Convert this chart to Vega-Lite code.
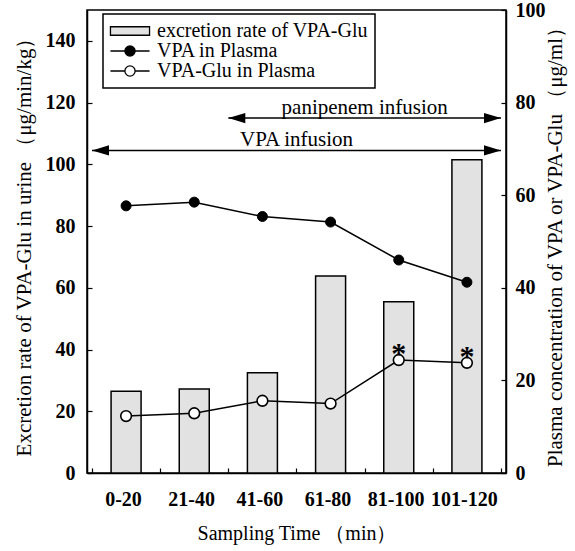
{
  "$schema": "https://vega.github.io/schema/vega-lite/v6.json",
  "width": 419,
  "height": 463,
  "autosize": {"type": "none"},
  "padding": {"left": 87, "top": 10, "right": 68, "bottom": 78},
  "background": "white",
  "config": {
    "font": "Liberation Serif",
    "view": {"stroke": "black", "strokeWidth": 1.5},
    "axis": {
      "grid": false,
      "domainColor": "black",
      "domainWidth": 1.5,
      "tickColor": "black",
      "tickWidth": 1.2,
      "labelColor": "black",
      "titleColor": "black",
      "labelFont": "Liberation Serif",
      "titleFont": "Liberation Serif",
      "labelFontSize": 20,
      "labelFontWeight": "bold",
      "titleFontSize": 20,
      "titleFontWeight": "normal"
    }
  },
  "datasets": {
    "main": [
      {"period": "0-20", "mid": 10, "rate": 26.5, "vpa": 57.7, "glu": 12.3},
      {"period": "21-40", "mid": 30, "rate": 27.2, "vpa": 58.5, "glu": 12.9},
      {"period": "41-60", "mid": 50, "rate": 32.5, "vpa": 55.4, "glu": 15.6},
      {"period": "61-80", "mid": 70, "rate": 63.8, "vpa": 54.2, "glu": 15.0},
      {"period": "81-100", "mid": 90, "rate": 55.5, "vpa": 46.0, "glu": 24.4},
      {"period": "101-120", "mid": 110, "rate": 101.5, "vpa": 41.2, "glu": 23.8}
    ],
    "stars": [
      {"mid": 90, "level": 27.2},
      {"mid": 110, "level": 26.6}
    ],
    "arrows": [
      {"label": "panipenem infusion", "start": 40, "end": 120, "level": 115},
      {"label": "VPA infusion", "start": 0, "end": 120, "level": 104.5}
    ]
  },
  "layer": [
    {
      "data": {"name": "main"},
      "mark": {"type": "bar", "size": 30, "stroke": "black", "strokeWidth": 1.5},
      "encoding": {
        "x": {
          "field": "mid",
          "type": "quantitative",
          "scale": {"domain": [0, 120], "nice": false, "zero": false},
          "axis": {
            "values": [0, 20, 40, 60, 80, 100, 120],
            "labelExpr": "datum.value == 0 ? '0-20' : datum.value == 20 ? '21-40' : datum.value == 40 ? '41-60' : datum.value == 60 ? '61-80' : datum.value == 80 ? '81-100' : datum.value == 100 ? '101-120' : ''",
            "labelOffset": 31,
            "labelOverlap": false,
            "labelFlush": false,
            "labelBound": false,
            "tickSize": -5,
            "labelPadding": 21,
            "title": "Sampling Time （min）",
            "titlePadding": 14
          }
        },
        "y": {
          "field": "rate",
          "type": "quantitative",
          "scale": {"domain": [0, 150], "nice": false},
          "axis": {
            "values": [0, 20, 40, 60, 80, 100, 120, 140],
            "tickSize": -5,
            "labelPadding": 17,
            "title": "Excretion rate of VPA-Glu in urine （μg/min/kg）",
            "titleFontSize": 21,
            "titlePadding": 11
          }
        },
        "fill": {
          "datum": "excretion rate of VPA-Glu",
          "type": "nominal",
          "scale": {
            "domain": ["excretion rate of VPA-Glu", "VPA in Plasma", "VPA-Glu in Plasma"],
            "range": ["#e2e2e2", "black", "white"]
          },
          "legend": {
            "title": null,
            "orient": "none",
            "legendX": 16,
            "legendY": 4,
            "strokeColor": "black",
            "padding": 7,
            "labelFont": "Liberation Serif",
            "labelFontSize": 20,
            "labelColor": "black",
            "labelLimit": 400,
            "symbolSize": 289,
            "symbolStrokeColor": "black",
            "symbolStrokeWidth": 1.3,
            "symbolOffset": 10,
            "labelOffset": 17,
            "rowPadding": 0,
            "encode": {
              "legend": {
                "update": {"strokeWidth": {"value": 1.5}}
              },
              "symbols": {
                "update": {
                  "shape": {"signal": "datum.value === 'excretion rate of VPA-Glu' ? 'M-2.3,-0.5H2.3V0.5H-2.3Z' : 'M-2.3,0H-0.6M0.6,0H2.3M0.6,0A0.6,0.6 0 1,1 -0.6,0A0.6,0.6 0 1,1 0.6,0Z'"},
                  "stroke": {"value": "black"},
                  "opacity": {"value": 1}
                }
              }
            }
          }
        }
      }
    },
    {
      "data": {"name": "main"},
      "mark": {"type": "line", "color": "black", "strokeWidth": 1.5},
      "encoding": {
        "x": {"field": "mid", "type": "quantitative"},
        "y": {
          "field": "vpa",
          "type": "quantitative",
          "scale": {"domain": [0, 100], "nice": false},
          "axis": {
            "orient": "right",
            "values": [0, 20, 40, 60, 80, 100],
            "tickSize": -5,
            "labelPadding": 14,
            "title": "Plasma concentration of VPA or VPA-Glu （μg/ml）",
            "titleFontSize": 21,
            "titleAngle": 270,
            "titlePadding": 20
          }
        }
      }
    },
    {
      "data": {"name": "main"},
      "mark": {"type": "line", "color": "black", "strokeWidth": 1.5},
      "encoding": {
        "x": {"field": "mid", "type": "quantitative"},
        "y": {"field": "glu", "type": "quantitative", "scale": {"domain": [0, 100], "nice": false}, "axis": null}
      }
    },
    {
      "data": {"name": "main"},
      "mark": {"type": "point", "shape": "circle", "filled": true, "opacity": 1, "stroke": "black", "strokeWidth": 1, "size": 100},
      "encoding": {
        "x": {"field": "mid", "type": "quantitative"},
        "y": {"field": "vpa", "type": "quantitative", "scale": {"domain": [0, 100], "nice": false}, "axis": null},
        "fill": {"datum": "VPA in Plasma", "type": "nominal"}
      }
    },
    {
      "data": {"name": "main"},
      "mark": {"type": "point", "shape": "circle", "filled": true, "opacity": 1, "stroke": "black", "strokeWidth": 1.6, "size": 115},
      "encoding": {
        "x": {"field": "mid", "type": "quantitative"},
        "y": {"field": "glu", "type": "quantitative", "scale": {"domain": [0, 100], "nice": false}, "axis": null},
        "fill": {"datum": "VPA-Glu in Plasma", "type": "nominal"}
      }
    },
    {
      "data": {"name": "stars"},
      "mark": {"type": "text", "text": "*", "font": "Liberation Serif", "fontSize": 30, "fontWeight": "bold", "baseline": "middle", "dy": 7, "color": "black"},
      "encoding": {
        "x": {"field": "mid", "type": "quantitative"},
        "y": {"field": "level", "type": "quantitative", "scale": {"domain": [0, 100], "nice": false}, "axis": null}
      }
    },
    {
      "data": {"name": "arrows"},
      "mark": {"type": "rule", "color": "black", "strokeWidth": 1.5},
      "encoding": {
        "x": {"field": "start", "type": "quantitative"},
        "x2": {"field": "end"},
        "y": {"field": "level", "type": "quantitative", "scale": {"domain": [0, 150], "nice": false}, "axis": null}
      }
    },
    {
      "data": {"name": "arrows"},
      "mark": {"type": "point", "shape": "M0,0L2,-0.6L2,0.6Z", "filled": true, "color": "black", "opacity": 1, "size": 289},
      "encoding": {
        "x": {"field": "start", "type": "quantitative"},
        "y": {"field": "level", "type": "quantitative", "scale": {"domain": [0, 150], "nice": false}, "axis": null}
      }
    },
    {
      "data": {"name": "arrows"},
      "mark": {"type": "point", "shape": "M0,0L-2,-0.6L-2,0.6Z", "filled": true, "color": "black", "opacity": 1, "size": 289},
      "encoding": {
        "x": {"field": "end", "type": "quantitative"},
        "y": {"field": "level", "type": "quantitative", "scale": {"domain": [0, 150], "nice": false}, "axis": null}
      }
    },
    {
      "data": {"name": "arrows"},
      "transform": [
        {"fold": ["start", "end"], "as": ["edge", "t"]},
        {"aggregate": [{"op": "mean", "field": "t", "as": "center"}], "groupby": ["label", "level"]}
      ],
      "mark": {"type": "text", "font": "Liberation Serif", "fontSize": 21, "baseline": "bottom", "dy": 0, "color": "black"},
      "encoding": {
        "x": {"field": "center", "type": "quantitative"},
        "y": {"field": "level", "type": "quantitative", "scale": {"domain": [0, 150], "nice": false}, "axis": null},
        "text": {"field": "label"}
      }
    }
  ],
  "resolve": {"scale": {"y": "independent"}}
}
